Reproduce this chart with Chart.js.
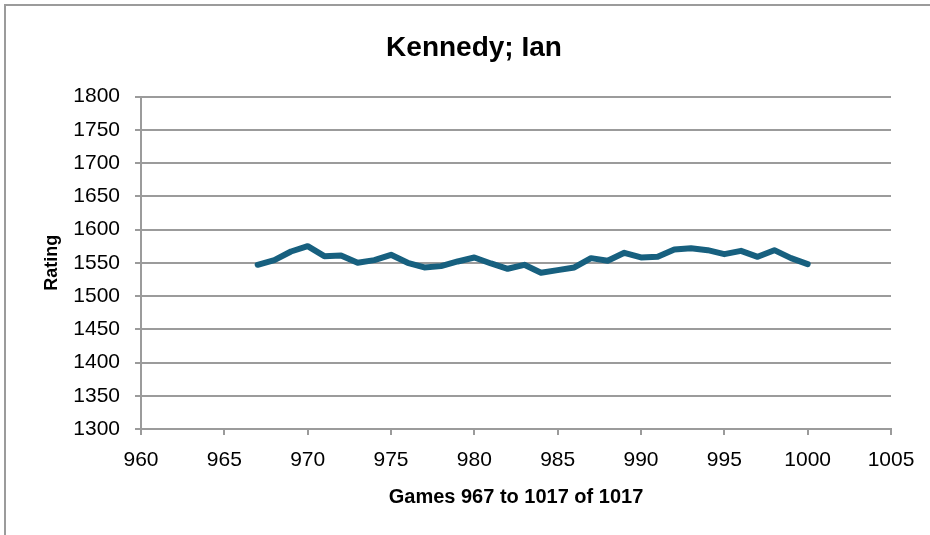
<!DOCTYPE html>
<html>
<head>
<meta charset="utf-8">
<script src="https://cdn.jsdelivr.net/npm/chart.js@4.4.1/dist/chart.umd.min.js"></script>
<style>
    html, body { margin: 0; padding: 0; background: #fff; }
    #wrap { position: relative; width: 930px; height: 535px; overflow: hidden; }
    #frame {
        position: absolute; left: 4px; top: 4px; width: 1000px; height: 1000px;
        border-top: 2px solid #9b9b9b; border-left: 2px solid #9b9b9b;
    }
    #chart { position: absolute; left: 0; top: 0; }
</style>
</head>
<body>
<div id="wrap">
    <div id="frame"></div>
    <canvas id="chart" width="930" height="535"></canvas>
</div>
<script>
// Rating history data
const games = [967, 968, 969, 970, 971, 972, 973, 974, 975, 976, 977, 978,
    979, 980, 981, 982, 983, 984, 985, 986, 987, 988, 989, 990, 991, 992,
    993, 994, 995, 996, 997, 998, 999, 1000];
const ratings = [1547, 1554, 1567, 1575, 1560, 1561, 1550, 1554, 1562, 1550, 1543, 1545,
    1552, 1558, 1549, 1541, 1547, 1535, 1539, 1543, 1557, 1553, 1565, 1558, 1559, 1570,
    1572, 1569, 1563, 1568, 1559, 1569, 1557, 1548];
const xTicks = [960, 965, 970, 975, 980, 985, 990, 995, 1000, 1005];
const yTicks = [1300, 1350, 1400, 1450, 1500, 1550, 1600, 1650, 1700, 1750, 1800];

const FONT = "'Liberation Sans', Arial, sans-serif";
const GRID = '#9b9b9b';

const points = games.map((g, i) => ({ x: g, y: ratings[i] }));

new Chart(document.getElementById('chart'), {
    type: 'line',
    data: {
        datasets: [{
            data: points,
            borderColor: '#17607f',
            borderWidth: 6,
            pointRadius: 0,
            tension: 0,
            borderJoinStyle: 'round',
            borderCapStyle: 'round'
        }]
    },
    options: {
        responsive: false,
        animation: false,
        layout: { padding: { top: 0, left: 18, right: 0, bottom: 0 } },
        plugins: {
            legend: { display: false },
            tooltip: { enabled: false },
            title: {
                display: true,
                text: 'Kennedy; Ian',
                color: '#000',
                font: { family: FONT, size: 28, weight: 'bold' },
                padding: { top: 31, bottom: 32 }
            }
        },
        scales: {
            x: {
                type: 'linear',
                min: xTicks[0],
                max: xTicks[xTicks.length - 1],
                afterBuildTicks: scale => { scale.ticks = xTicks.map(v => ({ value: v })); },
                afterFit: scale => { scale.height = 106; },
                ticks: {
                    color: '#000',
                    font: { family: FONT, size: 21 },
                    padding: 13,
                    maxRotation: 0,
                    autoSkip: false,
                    callback: v => String(v)
                },
                grid: { drawOnChartArea: false, color: GRID, lineWidth: 2, tickLength: 6 },
                border: { color: GRID, width: 2 },
                title: {
                    display: true,
                    text: 'Games 967 to 1017 of 1017',
                    color: '#000',
                    font: { family: FONT, size: 20, weight: 'bold' },
                    padding: { top: 0, bottom: 26 }
                }
            },
            y: {
                min: yTicks[0],
                max: yTicks[yTicks.length - 1],
                afterBuildTicks: scale => { scale.ticks = yTicks.map(v => ({ value: v })); },
                afterFit: scale => { scale.width = 123; },
                ticks: {
                    color: '#000',
                    font: { family: FONT, size: 21 },
                    padding: 15,
                    autoSkip: false,
                    callback: v => String(v)
                },
                grid: { color: GRID, lineWidth: 2, tickLength: 6 },
                border: { color: GRID, width: 2 },
                title: {
                    display: true,
                    text: 'Rating',
                    color: '#000',
                    font: { family: FONT, size: 18, weight: 'bold' },
                    padding: { top: 23, bottom: 0 }
                }
            },
            // empty right-hand box, only keeps the plot edge at the right place
            spacer: {
                position: 'right',
                min: 0,
                max: 1,
                afterFit: scale => { scale.width = 39; },
                ticks: { display: false },
                grid: { display: false },
                border: { display: false }
            }
        }
    }
});
</script>
</body>
</html>
